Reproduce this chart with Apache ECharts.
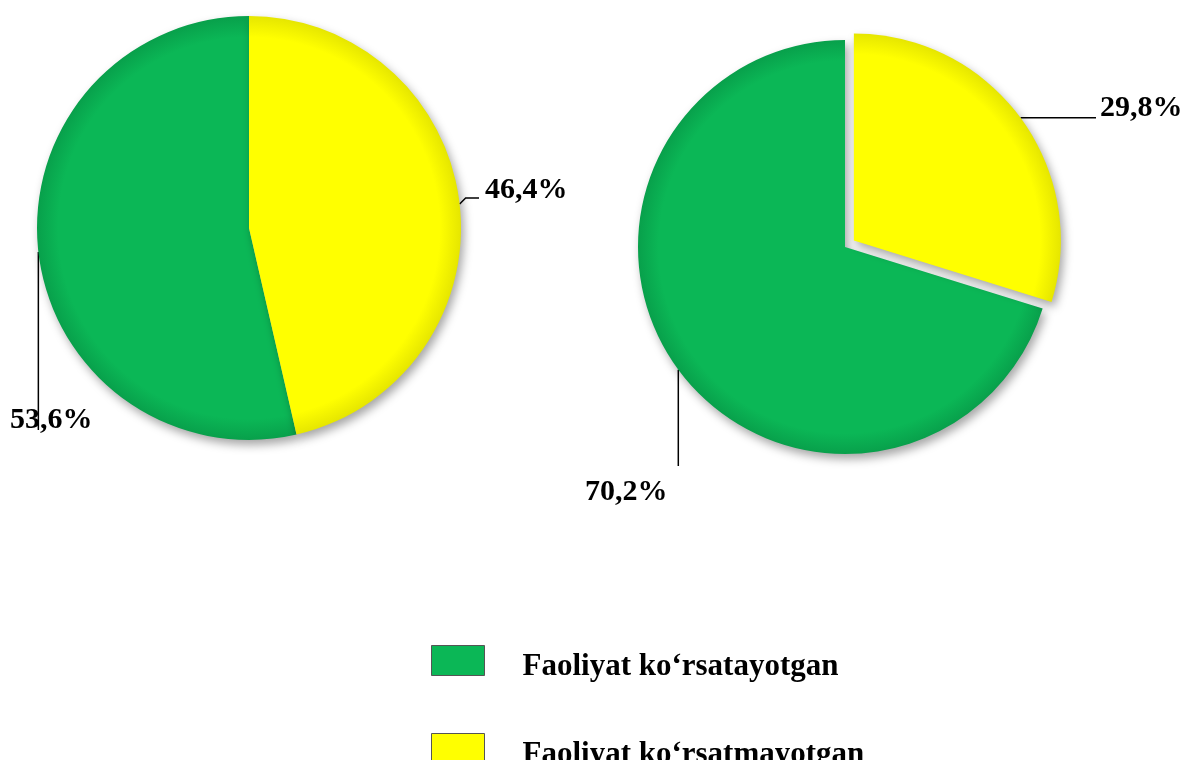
<!DOCTYPE html>
<html>
<head>
<meta charset="utf-8">
<script src="https://cdn.jsdelivr.net/npm/echarts@6/dist/echarts.min.js"></script>
<style>
  html, body { margin: 0; padding: 0; background: #ffffff; }
  #chart { width: 1187px; height: 760px; }
</style>
</head>
<body>
<div id="chart"></div>
<script>
// ---- data ----
const categories = ['Faoliyat ko\u2018rsatayotgan', 'Faoliyat ko\u2018rsatmayotgan'];
const leftValues = [53.6, 46.4];
const rightValues = [70.2, 29.8];

// ---- styling ----
const colors = ['#0bb756', '#ffff00'];
const edgeColors = ['#08a04b', '#e6e600'];
const FONT = '"Liberation Serif", "Times New Roman", serif';
const EXPLODE = 11;

// label placement (text left edge, text middle y) and leader-line style per pie/item
const labelPos = [
  [[10, 420], [485, 190]],
  [[585, 492], [1100, 108]]
];

function leaderLine(pieIdx, itemIdx, p0) {
  // p0 = point on the arc computed by ECharts
  if (pieIdx === 0 && itemIdx === 0) return [p0, [p0[0], 340], [p0[0], 430]];
  if (pieIdx === 0 && itemIdx === 1) return [p0, [p0[0] + 6, 198], [479, 198]];
  if (pieIdx === 1 && itemIdx === 0) return [p0, [p0[0], 420], [p0[0], 466]];
  return [p0, [p0[0] + 30, p0[1]], [1096, p0[1]]];
}

function pieSeries(values, pieIdx, center, radius, visibleIdx) {
  return {
    type: 'pie',
    center: center,
    radius: radius,
    startAngle: 90,
    clockwise: false,
    silent: true,
    animation: false,
    data: values.map((v, i) => {
      const shown = visibleIdx.indexOf(i) >= 0;
      return {
        name: categories[i],
        value: v,
        itemStyle: shown ? {
          color: {
            type: 'radial', global: true,
            x: center[0], y: center[1], r: radius,
            colorStops: [
              { offset: 0, color: colors[i] },
              { offset: 0.9, color: colors[i] },
              { offset: 1, color: edgeColors[i] }
            ]
          },
          shadowBlur: 10,
          shadowOffsetX: 3,
          shadowOffsetY: 5,
          shadowColor: 'rgba(0,0,0,0.35)'
        } : { color: colors[i], opacity: 0 },
        label: { show: shown },
        labelLine: { show: shown }
      };
    }),
    label: {
      position: 'outside',
      alignTo: 'none',
      overflow: 'none',
      formatter: p => p.value.toFixed(1).replace('.', ',') + '%',
      fontFamily: FONT,
      fontWeight: 'bold',
      fontSize: 30,
      color: '#000'
    },
    labelLine: {
      length: 10,
      length2: 10,
      lineStyle: { color: '#000', width: 1.5 }
    },
    labelLayout: function (params) {
      const pos = labelPos[pieIdx][params.dataIndex];
      const out = { x: pos[0], y: pos[1], align: 'left', verticalAlign: 'middle' };
      if (params.labelLinePoints && params.labelLinePoints.length) {
        out.labelLinePoints = leaderLine(pieIdx, params.dataIndex, params.labelLinePoints[0]);
      }
      return out;
    }
  };
}

// explode offset for the second slice of the right pie, along its mid angle
const rightTotal = rightValues[0] + rightValues[1];
const midAngle = (rightValues[1] / 2 / rightTotal) * 2 * Math.PI; // clockwise from top
const rightCenter = [845, 247];
const rightCenterExploded = [
  rightCenter[0] + EXPLODE * Math.sin(midAngle),
  rightCenter[1] - EXPLODE * Math.cos(midAngle)
];

function makeLegend(i, top) {
  return {
    orient: 'vertical',
    left: 426,
    top: top,
    itemWidth: 53,
    itemHeight: 30,
    icon: 'rect',
    selectedMode: false,
    data: [{
      name: categories[i],
      itemStyle: { color: colors[i], borderColor: '#555', borderWidth: 1, shadowBlur: 0, opacity: 1 }
    }],
    formatter: name => '{t|' + name + '}',
    textStyle: {
      fontFamily: FONT,
      fontWeight: 'bold',
      fontSize: 31,
      color: '#000',
      padding: [0, 0, 0, 33],
      rich: {
        t: {
          fontFamily: FONT,
          fontWeight: 'bold',
          fontSize: 31,
          color: '#000',
          padding: [12, 0, 0, 0]
        }
      }
    }
  };
}

const chart = echarts.init(document.getElementById('chart'), null, { renderer: 'canvas' });
chart.setOption({
  backgroundColor: '#ffffff',
  animation: false,
  legend: [makeLegend(0, 640), makeLegend(1, 728)],
  series: [
    pieSeries(leftValues, 0, [249, 228], 212, [0, 1]),
    pieSeries(rightValues, 1, rightCenter, 207, [0]),
    pieSeries(rightValues, 1, rightCenterExploded, 207, [1])
  ]
});
</script>
</body>
</html>
